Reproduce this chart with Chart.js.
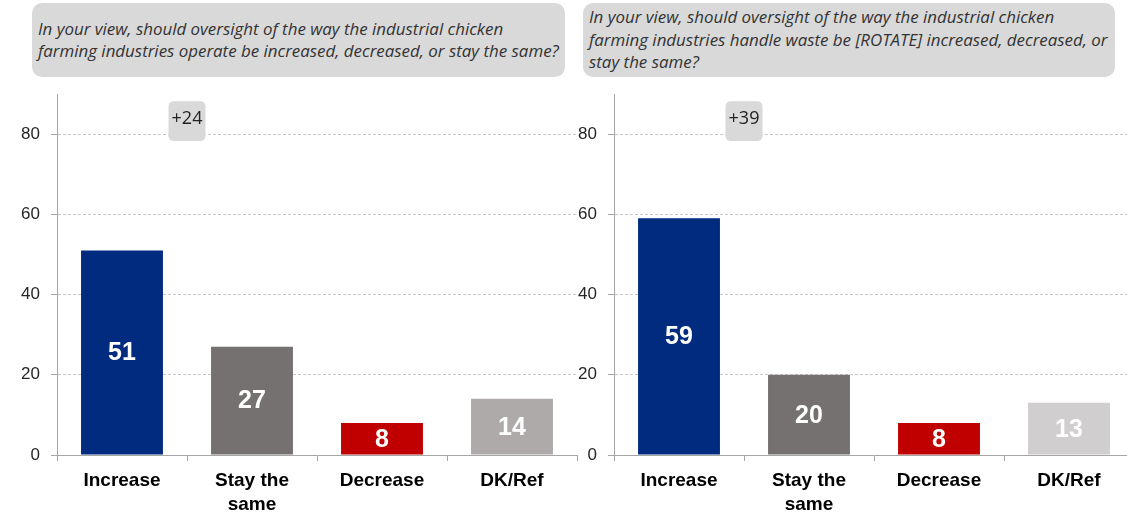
<!DOCTYPE html>
<html>
<head>
<meta charset="utf-8">
<script src="https://cdn.jsdelivr.net/npm/chart.js@4/dist/chart.umd.min.js"></script>
<style>
  html, body { margin: 0; padding: 0; background: #fff; overflow: hidden; width: 1127px; height: 523px; }
  .wrap { position: relative; width: 1127px; height: 523px; overflow: hidden; }
  canvas { position: absolute; top: 0; }
  .q {
    position: absolute; top: 3px; height: 74px; box-sizing: border-box;
    background: #d9d9d9; border-radius: 10px;
    font-family: "Open Sans", Lato, sans-serif; font-style: italic; font-size: 16.9px;
    line-height: 22.5px; color: #333; padding: 0 6px; white-space: nowrap;
    display: flex; flex-direction: column; justify-content: center;
  }
</style>
</head>
<body>
<div class="wrap">
  <div class="q" id="q1" style="left:32px; width:533px;"></div>
  <div class="q" id="q2" style="left:583px; width:532px;"></div>
  <canvas id="left" width="580" height="523" style="left:0px;"></canvas>
  <canvas id="right" width="580" height="523" style="left:557px;"></canvas>
</div>
<script>
const categories = ['Increase', 'Stay the same', 'Decrease', 'DK/Ref'];
const operateValues = [51, 27, 8, 14];
const wasteValues = [59, 20, 8, 13];
const yTicks = [0, 20, 40, 60, 80];
const operateColors = ['#002b7f', '#767171', '#c00000', '#aeaaaa'];
const wasteColors = ['#002b7f', '#767171', '#c00000', '#d0cece'];
const questionOperate = [
  'In your view, should oversight of the way the industrial chicken',
  'farming industries operate be increased, decreased, or stay the same?'
];
const questionWaste = [
  'In your view, should oversight of the way the industrial chicken',
  'farming industries handle waste be [ROTATE] increased, decreased, or',
  'stay the same?'
];

function fillQuestion(id, lines) {
  const el = document.getElementById(id);
  lines.forEach(l => {
    const d = document.createElement('div');
    d.textContent = l;
    el.appendChild(d);
  });
}
fillQuestion('q1', questionOperate);
fillQuestion('q2', questionWaste);

// white value inside each bar
const barValues = {
  id: 'barValues',
  afterDatasetsDraw(chart) {
    const ctx = chart.ctx;
    const meta = chart.getDatasetMeta(0);
    const data = chart.data.datasets[0].data;
    ctx.save();
    ctx.fillStyle = '#fff';
    ctx.font = 'bold 25px "Liberation Sans", Arial, sans-serif';
    ctx.textAlign = 'center';
    ctx.textBaseline = 'middle';
    meta.data.forEach((bar, i) => {
      ctx.fillText(String(data[i]), bar.x, (bar.y + bar.base) / 2 + 1);
    });
    ctx.restore();
  }
};

// "+NN" gap box between Increase and Stay the same
const gapBox = {
  id: 'gapBox',
  afterDraw(chart, args, opts) {
    const ctx = chart.ctx;
    const xs = chart.scales.x, ys = chart.scales.y;
    const cx = xs.getPixelForValue(0.5);
    const top = ys.getPixelForValue(88.2);
    const bot = ys.getPixelForValue(78.3);
    const w = 37;
    ctx.save();
    ctx.fillStyle = '#d9d9d9';
    ctx.beginPath();
    ctx.roundRect(cx - w / 2, top, w, bot - top, 5);
    ctx.fill();
    ctx.fillStyle = '#222';
    ctx.font = '18px "Open Sans", Lato, sans-serif';
    ctx.textAlign = 'center';
    ctx.textBaseline = 'middle';
    ctx.fillText(opts.text, cx, (top + bot) / 2 - 2);
    ctx.restore();
  }
};

function makeChart(id, values, colors) {
  const gap = values[0] - values[1];
  return new Chart(document.getElementById(id), {
    type: 'bar',
    data: {
      labels: categories,
      datasets: [{ data: values, backgroundColor: colors, barPercentage: 0.63, categoryPercentage: 1 }]
    },
    options: {
      responsive: false,
      animation: false,
      layout: { padding: { top: 94, right: 3, left: 0, bottom: 0 } },
      plugins: {
        legend: { display: false },
        tooltip: { enabled: false },
        gapBox: { text: (gap >= 0 ? '+' : '') + gap }
      },
      scales: {
        x: {
          grid: { drawOnChartArea: false, drawTicks: true, tickLength: 6, tickColor: '#a6a6a6', offset: true },
          border: { color: '#a6a6a6', width: 1 },
          ticks: {
            color: '#000',
            font: { family: '"Liberation Sans", Arial, sans-serif', size: 19, weight: 'bold', lineHeight: 1.25 },
            padding: 8,
            maxRotation: 0,
            autoSkip: false,
            callback: (v, i) => categories[i] === 'Stay the same' ? ['Stay the', 'same'] : categories[i]
          },
          afterFit: s => { s.height = 68; }
        },
        y: {
          min: 0,
          max: 90,
          ticks: {
            stepSize: 20,
            color: '#262626',
            font: { family: '"Liberation Sans", Arial, sans-serif', size: 17 },
            padding: 11
          },
          afterBuildTicks: s => { s.ticks = yTicks.map(v => ({ value: v })); },
          grid: { color: '#c8c8c8', drawTicks: true, tickLength: 6, tickColor: '#a6a6a6' },
          border: { color: '#a6a6a6', width: 1, dash: [3, 2] },
          afterFit: s => { s.width = 57; }
        }
      }
    },
    plugins: [barValues, gapBox]
  });
}

makeChart('left', operateValues, operateColors);
makeChart('right', wasteValues, wasteColors);
</script>
</body>
</html>
